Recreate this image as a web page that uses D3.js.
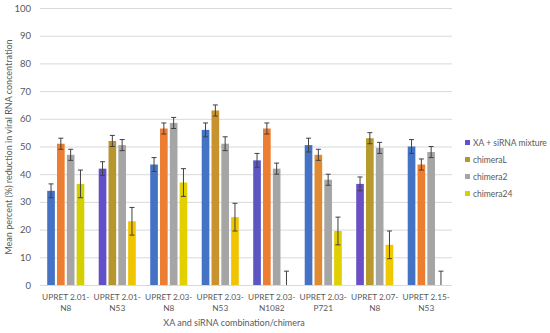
<!DOCTYPE html>
<html>
<head>
<meta charset="utf-8">
<script src="https://cdn.jsdelivr.net/npm/d3@7"></script>
<style>
  body { margin: 0; background: #fff; }
  text { font-family: Lato, "Open Sans", sans-serif; fill: #595959; }
</style>
</head>
<body>
<div id="chart"></div>
<script>
var categories = ["UPRET 2.01-|N8", "UPRET 2.01-|N53", "UPRET 2.03-|N8", "UPRET 2.03-|N53",
    "UPRET 2.03-|N1082", "UPRET 2.03-|P721", "UPRET 2.07-|N8", "UPRET 2.15-|N53"];
var seriesNames = ["XA + siRNA mixture", "chimeraL", "chimera2", "chimera24"];
var mixture   = [34, 42, 43.5, 56, 45, 50.5, 36.5, 50];
var chimeraL  = [51, 52, 56.5, 63, 56.5, 47, 53, 43.5];
var chimera2  = [47, 50.5, 58.5, 51, 42, 38, 49.5, 48];
var chimera24 = [36.5, 23, 37, 24.5, 0, 19.5, 14.5, 0];
var errMixture   = [2.5, 2.5, 2.5, 2.5, 2.5, 2.5, 2.5, 2.5];
var errChimeraL  = [2, 2, 2, 2, 2, 2, 2, 2];
var errChimera2  = [2, 2, 2, 2.5, 2, 2, 2, 2];
var errChimera24 = [5, 5, 5, 5, 5, 5, 5, 5];
var yTicks = [0, 10, 20, 30, 40, 50, 60, 70, 80, 90, 100];

var values = [mixture, chimeraL, chimera2, chimera24];
var errors = [errMixture, errChimeraL, errChimera2, errChimera24];

// colours (the reference tints some bars differently from group to group)
var legendColors = ["#5a55c8", "#b09a2c", "#a5a5a5", "#d6d000"];
var blueTint = ["#4472c4", "#6250c8", "#4472c4", "#4472c4", "#5c55c4", "#4472c4", "#6a4fc6", "#4472c4"];
var secondTint = ["#ed7d31", "#b8962e", "#ed7d31", "#c8922e", "#ed7d31", "#e08a32", "#b89a2c", "#ed7d31"];
var yellowTint = ["#d4d000", "#f0c400", "#e2d000", "#f0c400", "#e2d000", "#e0d000", "#f0c800", "#e2d000"];
function barColor(s, i) {
    if (s === 0) return blueTint[i];
    if (s === 1) return secondTint[i];
    if (s === 2) return "#a5a5a5";
    return yellowTint[i];
}

var width = 550, height = 333;
var plot = {left: 40, right: 452, top: 8, bottom: 285};

var svg = d3.select("#chart").append("svg")
    .attr("width", width)
    .attr("height", height);

var x0 = d3.scaleBand()
    .domain(d3.range(categories.length))
    .range([plot.left, plot.right])
    .paddingInner(0.28)
    .paddingOuter(0.14);

var x1 = d3.scaleBand()
    .domain(d3.range(seriesNames.length))
    .range([0, x0.bandwidth()])
    .paddingInner(0.22);

var y = d3.scaleLinear()
    .domain([0, 100])
    .range([plot.bottom, plot.top]);

// gridlines
svg.append("g").selectAll("line")
    .data(yTicks)
    .enter().append("line")
    .attr("x1", plot.left)
    .attr("x2", plot.right)
    .attr("y1", function (d) { return y(d) + 0.5; })
    .attr("y2", function (d) { return y(d) + 0.5; })
    .attr("stroke", "#d9d9d9")
    .attr("stroke-width", 1);

// y axis labels
var yAxis = d3.axisLeft(y).tickValues(yTicks).tickSize(0).tickPadding(0);
var yg = svg.append("g")
    .attr("transform", "translate(31,0)")
    .call(yAxis);
yg.select(".domain").remove();
yg.selectAll("text").style("font-size", "9.5px").attr("fill", "#595959");

// bars
var groups = svg.append("g").selectAll("g")
    .data(categories)
    .enter().append("g")
    .attr("transform", function (d, i) { return "translate(" + x0(i) + ",0)"; });

groups.each(function (c, i) {
    var g = d3.select(this);
    seriesNames.forEach(function (s, k) {
        var v = values[k][i], e = errors[k][i];
        var bx = x1(k), bw = x1.bandwidth();
        if (v > 0) {
            g.append("rect")
                .attr("x", bx)
                .attr("y", y(v))
                .attr("width", bw)
                .attr("height", y(0) - y(v))
                .attr("fill", barColor(k, i));
        }
        var cx = bx + bw / 2;
        var lo = Math.max(0, v - e), hi = v + e;
        g.append("line")
            .attr("x1", cx).attr("x2", cx)
            .attr("y1", y(lo)).attr("y2", y(hi))
            .attr("stroke", "#404040").attr("stroke-width", 1);
        g.append("line")
            .attr("x1", cx - 2.5).attr("x2", cx + 2.5)
            .attr("y1", y(hi)).attr("y2", y(hi))
            .attr("stroke", "#404040").attr("stroke-width", 1);
        if (v - e > 0) {
            g.append("line")
                .attr("x1", cx - 2.5).attr("x2", cx + 2.5)
                .attr("y1", y(lo)).attr("y2", y(lo))
                .attr("stroke", "#404040").attr("stroke-width", 1);
        }
    });
});

// x axis labels (two lines each)
var xAxis = d3.axisBottom(x0).tickSize(0).tickFormat(function () { return ""; });
var xg = svg.append("g")
    .attr("transform", "translate(0," + plot.bottom + ")")
    .call(xAxis);
xg.select(".domain").remove();
xg.selectAll(".tick").each(function (i) {
    var parts = categories[i].split("|");
    var t = d3.select(this).append("text")
        .attr("text-anchor", "middle")
        .style("font-size", "8.3px")
        .attr("fill", "#595959");
    t.append("tspan").attr("x", 0).attr("y", 15).text(parts[0]);
    t.append("tspan").attr("x", 0).attr("y", 25.5).text(parts[1]);
});

// axis titles
svg.append("text")
    .attr("x", 234)
    .attr("y", 326)
    .attr("text-anchor", "middle")
    .style("font-size", "9px")
    .text("XA and siRNA combination/chimera");

svg.append("text")
    .attr("transform", "translate(12,147) rotate(-90)")
    .attr("text-anchor", "middle")
    .style("font-size", "9px")
    .text("Mean percent (%) reduction in viral RNA concentration");

// legend
var legend = svg.append("g").selectAll("g")
    .data(seriesNames)
    .enter().append("g")
    .attr("transform", function (d, i) { return "translate(465," + (143 + i * 17) + ")"; });
legend.append("rect")
    .attr("x", 0).attr("y", -3)
    .attr("width", 5).attr("height", 5)
    .attr("fill", function (d, i) { return legendColors[i]; });
legend.append("text")
    .attr("x", 8)
    .attr("y", 3)
    .style("font-size", "8.5px")
    .text(function (d) { return d; });
</script>
</body>
</html>
